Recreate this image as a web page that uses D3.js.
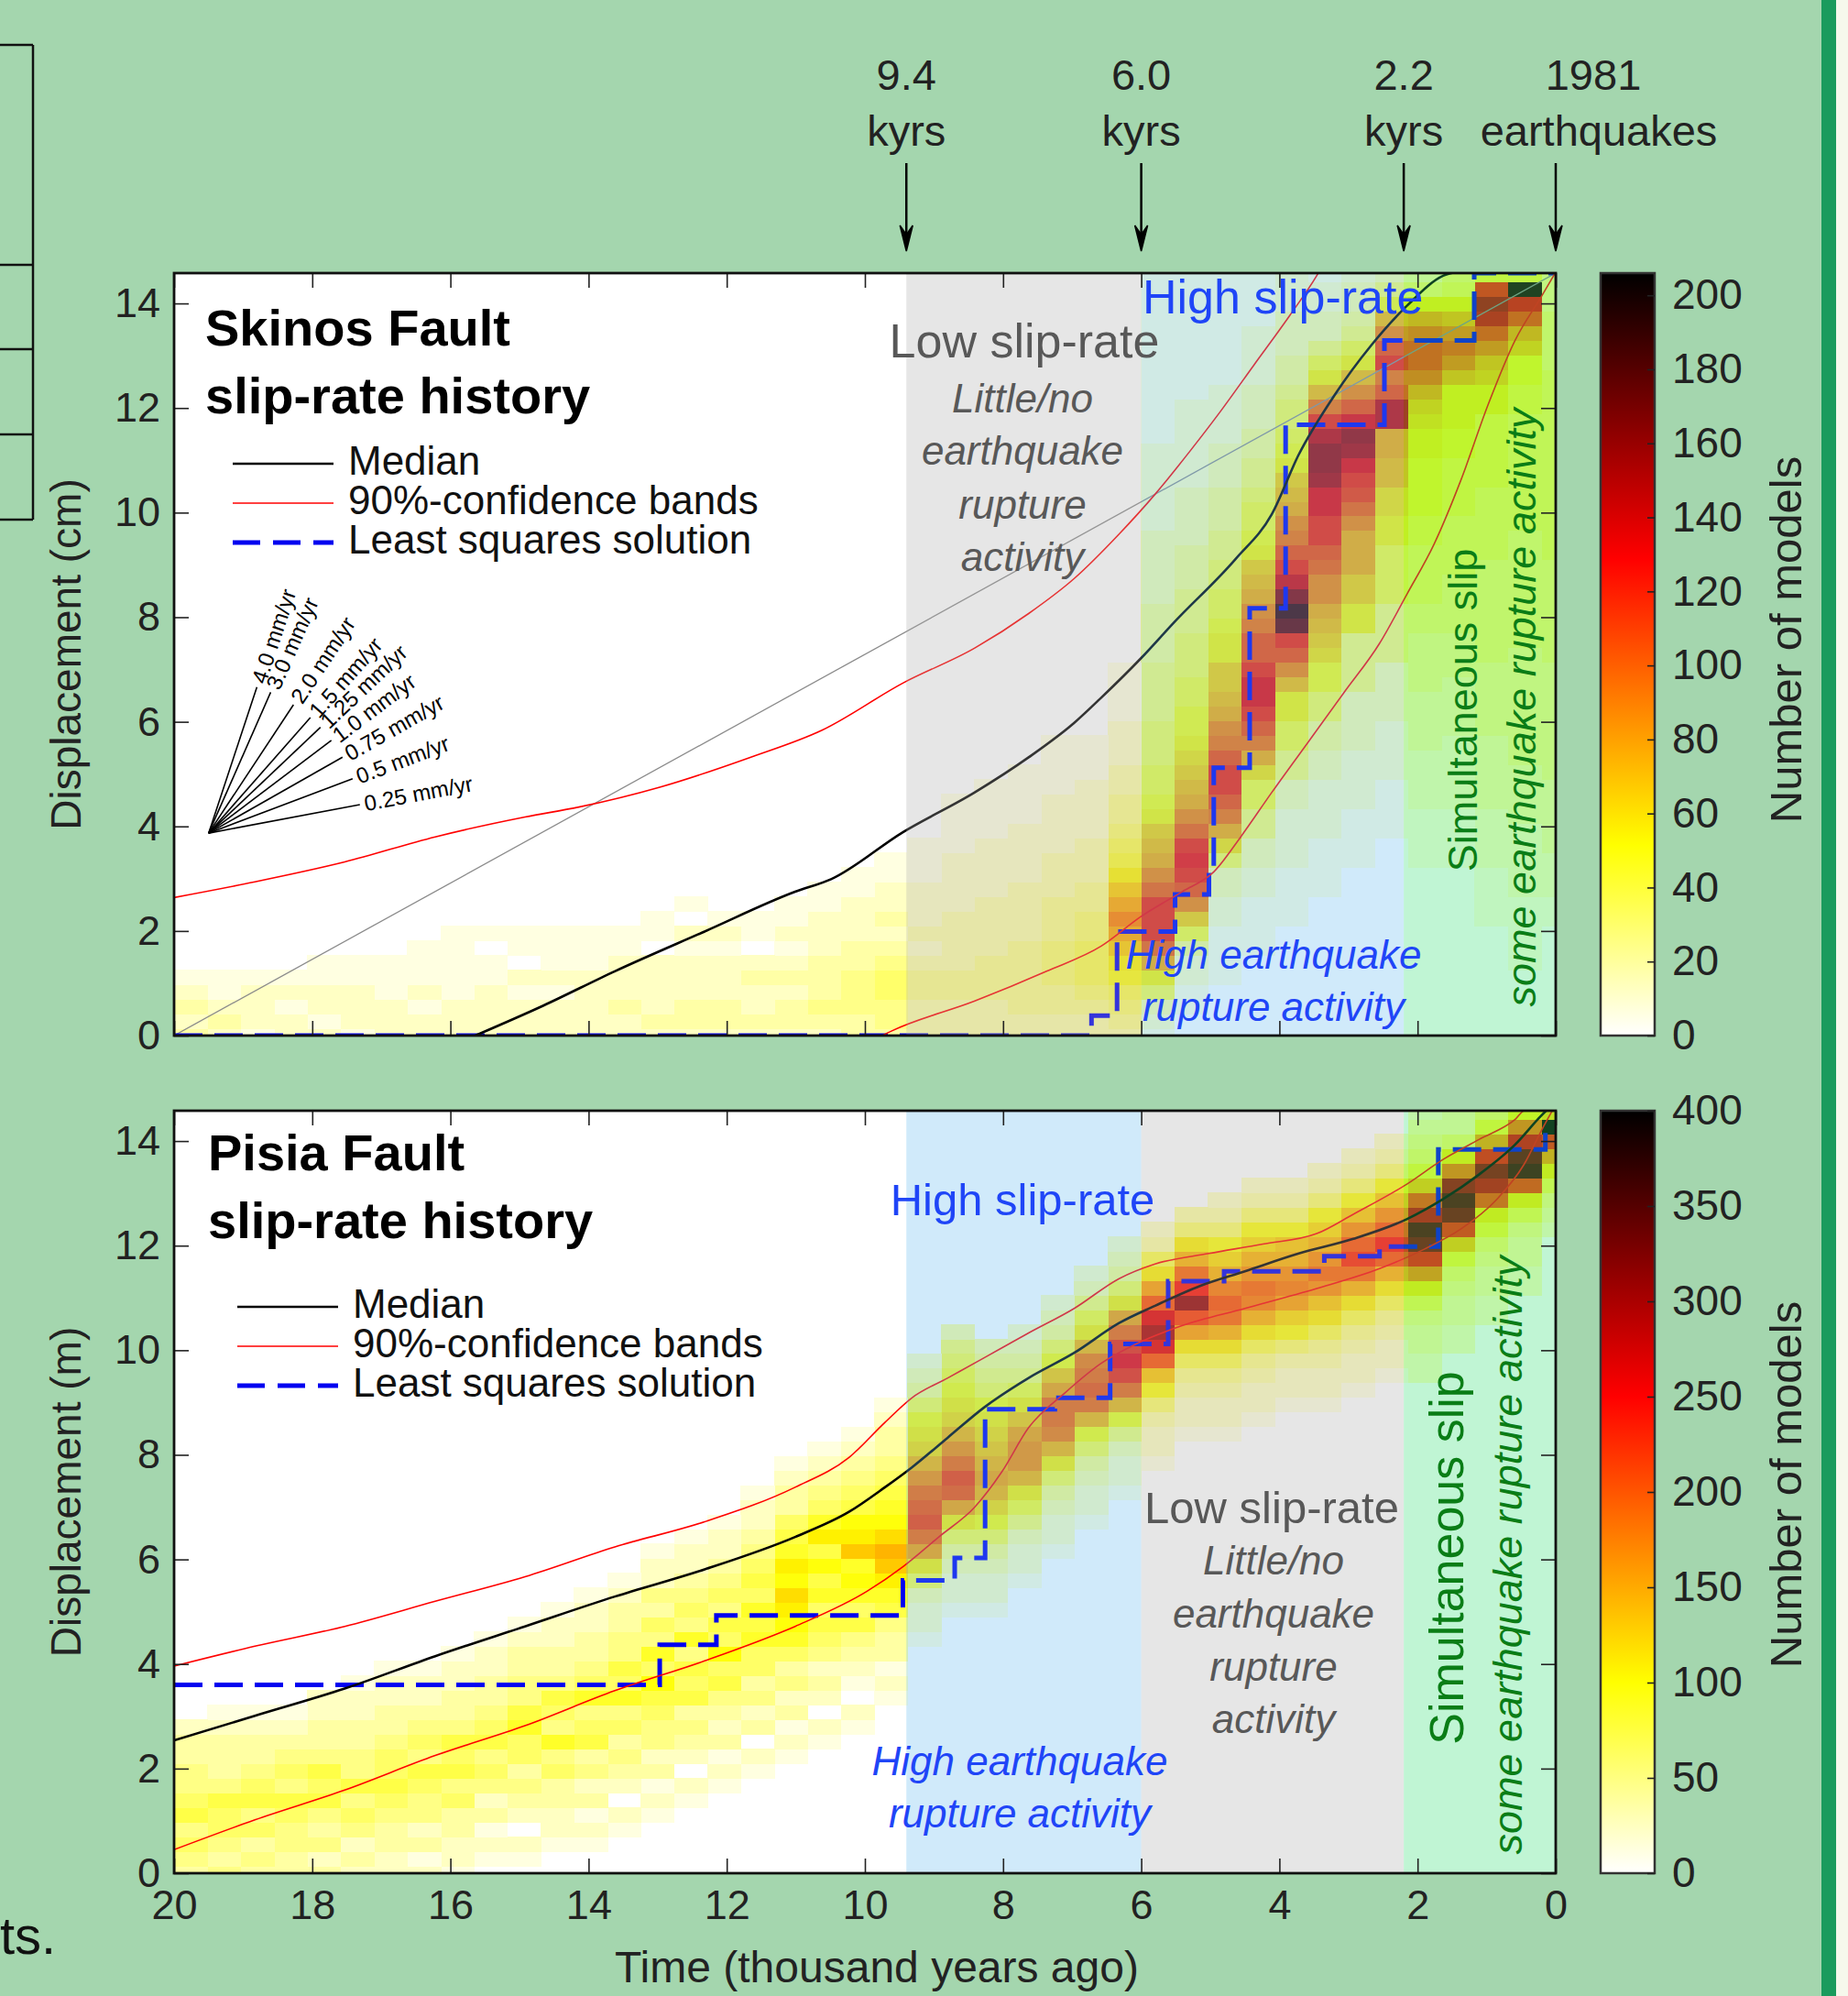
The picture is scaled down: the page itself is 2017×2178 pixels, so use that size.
<!DOCTYPE html>
<html>
<head>
<meta charset="utf-8">
<script src="https://cdn.jsdelivr.net/npm/d3@7"></script>
<style>
  body { margin: 0; background: #a4d6ae; }
  svg { display: block; }
</style>
</head>
<body>
<svg id="fig" width="2017" height="2178"></svg>
<script>
// ---------- data ----------
var timeTicks = [20, 18, 16, 14, 12, 10, 8, 6, 4, 2, 0];
var dispTicks = [0, 2, 4, 6, 8, 10, 12, 14];
var skinosCbarTicks = [0, 20, 40, 60, 80, 100, 120, 140, 160, 180, 200];
var pisiaCbarTicks = [0, 50, 100, 150, 200, 250, 300, 350, 400];
var fanRates = [4.0, 3.0, 2.0, 1.5, 1.25, 1.0, 0.75, 0.5, 0.25];
var fanLabels = ["4.0 mm/yr", "3.0 mm/yr", "2.0 mm/yr", "1.5 mm/yr", "1.25 mm/yr", "1.0 mm/yr", "0.75 mm/yr", "0.5 mm/yr", "0.25 mm/yr"];
var eventTimes = [9.4, 6.0, 2.2, 0];
var eventLabels = [["9.4", "kyrs"], ["6.0", "kyrs"], ["2.2", "kyrs"], ["1981", "earthquakes"]];
var legendLabels = ["Median", "90%-confidence bands", "Least squares solution"];

// [time kyr ago, displacement]
var skinosMedian = [[15.64,0],[14.66,0.57],[13.62,1.23],[12.32,1.99],[11.01,2.75],[10.49,2.99],[9.45,3.89],[8.41,4.65],[7.63,5.32],[6.97,5.98],[6.58,6.46],[6.0,7.22],[5.54,7.88],[4.63,9.12],[4.11,9.97],[3.72,11.11],[3.20,12.25],[2.67,13.2],[2.15,13.96],[1.63,14.53],[1.37,14.62]];
var skinosUpper = [[20,2.64],[18.83,2.94],[17.53,3.32],[16.22,3.80],[14.92,4.18],[14.14,4.37],[12.97,4.75],[11.66,5.32],[10.62,5.84],[9.45,6.74],[8.41,7.41],[7.63,8.07],[6.97,8.74],[6.32,9.59],[5.80,10.35],[5.28,11.2],[4.89,11.87],[4.37,12.82],[3.85,13.77],[3.46,14.53],[3.30,14.9]];
var skinosLower = [[9.75,0],[9.61,0.09],[8.41,0.66],[7.37,1.23],[6.58,1.71],[6.0,2.28],[5.41,2.75],[4.95,3.13],[4.56,3.80],[4.11,4.65],[3.59,5.60],[3.07,6.55],[2.55,7.50],[2.15,8.45],[1.76,9.40],[1.37,10.63],[0.98,12.06],[0.59,13.29],[0.20,14.15],[0.0,14.6]];
var skinosLsq = [[20,0],[6.72,0],[6.72,0.38],[6.35,0.38],[6.35,1.99],[5.51,1.99],[5.51,2.70],[5.02,2.70],[5.02,3.18],[4.95,3.18],[4.95,5.12],[4.43,5.12],[4.43,8.17],[3.91,8.17],[3.91,11.68],[2.48,11.68],[2.48,13.29],[1.18,13.29],[1.18,14.58],[0,14.58]];
var skinosAverage = [[20,0],[0,14.58]];

var pisiaMedian = [[20,2.54],[18.83,3.01],[17.53,3.53],[16.22,4.15],[14.92,4.72],[13.62,5.29],[12.32,5.81],[11.01,6.43],[10.23,6.91],[9.71,7.38],[9.32,7.76],[8.80,8.33],[8.28,8.90],[7.63,9.47],[6.97,9.95],[6.32,10.52],[5.80,10.85],[5.15,11.23],[4.50,11.51],[3.72,11.85],[2.93,12.13],[2.15,12.51],[1.63,12.89],[1.11,13.36],[0.59,13.93],[0.20,14.5],[0,14.75]];
var pisiaUpper = [[20,3.96],[18.83,4.34],[17.53,4.72],[16.22,5.20],[14.92,5.67],[13.62,6.24],[12.32,6.72],[11.01,7.38],[10.23,7.95],[9.71,8.62],[9.32,9.09],[8.80,9.47],[8.28,9.85],[7.63,10.33],[6.97,10.80],[6.32,11.37],[5.80,11.65],[5.02,11.85],[4.24,12.03],[3.46,12.23],[2.93,12.60],[2.15,13.18],[1.63,13.65],[1.11,14.03],[0.59,14.41],[0.45,14.58],[0,14.58]];
var pisiaLower = [[20,0.45],[18.83,1.02],[17.53,1.59],[16.22,2.25],[14.92,2.82],[13.62,3.49],[12.32,4.06],[11.01,4.72],[9.97,5.39],[9.45,5.86],[8.93,6.43],[8.41,7.0],[8.02,7.67],[7.63,8.52],[7.10,9.19],[6.58,9.75],[6.06,10.13],[5.41,10.47],[4.50,10.80],[3.46,11.18],[2.55,11.56],[1.89,11.94],[1.37,12.32],[0.85,12.89],[0.46,13.55],[0.20,14.22],[0,14.7]];
var pisiaLsq = [[20,3.60],[12.97,3.60],[12.97,4.37],[12.15,4.37],[12.15,4.93],[9.45,4.93],[9.45,5.60],[8.70,5.60],[8.70,6.03],[8.26,6.03],[8.26,8.87],[7.25,8.87],[7.25,9.09],[6.45,9.09],[6.45,10.12],[5.61,10.12],[5.61,11.32],[4.80,11.32],[4.80,11.51],[3.35,11.51],[3.35,11.80],[2.55,11.80],[2.55,11.98],[1.70,11.98],[1.70,13.84],[0.15,13.84],[0.15,14.2],[0,14.2]];

// model-count histograms: one entry per time bin (youngest first),
// [first displacement bin, counts coded base-36 per bin upward]
var skinosHeat = [
  [8, "1122 2333 3344 4444 4455 5555 5666 6666 6666 6655 5544 4"],
  [5, "1111 1222 2233 3344 4444 4455 5555 5566 6666 6677 88bd imx7"],
  [8, "1111 2222 3333 3444 4455 5555 5666 6677 7779 9bcf inpk 7"],
  [12, "1111 2222 2333 3444 5555 6666 7777 8899 9cfh fc96 5"],
  [12, "1111 2222 3333 4444 5566 6677 8888 99ab dgii gd95 3"],
  [14, "1111 2222 3333 5555 7777 99aa ccdd ooig kifc 853"],
  [12, "1111 2222 3333 5555 99bb dddf hjkm pqmi fc97 5433 2"],
  [10, "1111 2222 3344 6688 abcd ffhi kkmm pqqo kgc9 7533 221"],
  [8, "1111 2222 3355 7799 cfik tvrn kigf dcb9 8766 5443 33222"],
  [6, "1111 2233 5577 adgi kmmk iigf dcb9 8776 5544 3332 2221111"],
  [4, "1111 2233 6adg ikki gfdc bb99 8776 6554 4433 3222 211111111"],
  [2, "1122 47bf iklk hfdc ba98 8776 6655 5444 3333 2222 2211 1111111"],
  [0, "1236 9dhk kkhf dcb9 8776 6655 5544 4433 3332 2222 2111 111111111"],
  [0, "3456 89bd fdb9 7654 4332 2211 11"],
  [0, "3345 6665 5443 3322 2211 1"],
  [0, "3344 5554 4433 3222 2111 1"],
  [0, "3344 4443 3332 2221 111"],
  [0, "3334 4433 3322 2211 11"],
  [0, "3334 4333 3222 2111 1"],
  [0, "3334 4323 2221 11"],
  [0, "3445 5432 3221 1"],
  [0, "3344 4332 2211"],
  [0, "2343 3322 211"],
  [0, "2332 3212 11"],
  [0, "2322 3201 1"],
  [0, "2332 2212 1"],
  [0, "2332 2212 01"],
  [0, "2322 2201 1"],
  [0, "2232 2211"],
  [0, "2222 2111"],
  [0, "2221 2111"],
  [0, "2221 2011"],
  [0, "2222 1101"],
  [0, "2221 1111"],
  [0, "2212 111"],
  [0, "2221 11"],
  [0, "1222 11"],
  [0, "2122 11"],
  [0, "2212 1"],
  [0, "1222 1"],
  [0, "2321 1"],
  [0, "3232 1"]
];
var pisiaHeat = [
  [44, "2346 9djx a"],
  [40, "2233 469i usmf 8"],
  [38, "2233 4579 hnqk d75"],
  [36, "2233 457b jrtp f953 3"],
  [34, "2233 469e krtn hb75 432"],
  [34, "1223 469c hkhe b853 2"],
  [33, "1223 469c gjhe b853 2"],
  [32, "1223 469b egec a853 2"],
  [32, "1223 58ad fecb 8532"],
  [31, "1223 469c fgec a853 2"],
  [30, "1223 469c ghfc a853 2"],
  [30, "1223 469d iqkg c953"],
  [28, "1223 58bh mpmh d963 2"],
  [26, "1223 58cg jljg d964 32"],
  [24, "1223 468c ghgf c975 32"],
  [22, "1223 469c fggd b864 32"],
  [20, "1223 579c eedb 9754 32"],
  [18, "1223 468a cdcb a986 543"],
  [18, "1223 469d hige ca98 7653"],
  [16, "1223 69dg ihge ca98 6432"],
  [12, "1213 3467 9bca 8765 4332 1"],
  [10, "1201 2346 5787 b986 5432 1"],
  [9, "1202 3245 6576 8697 5432 1"],
  [8, "1213 2435 789a 8976 5332 1"],
  [7, "1203 2435 5767 5654 3221"],
  [6, "1213 2346 5856 4543 221"],
  [5, "1202 3436 5647 4543 221"],
  [4, "1213 2445 6857 4534 221"],
  [3, "1202 3435 4756 4433 21"],
  [2, "1213 2436 5475 4332 21"],
  [2, "1223 3547 4564 3322 1"],
  [1, "1202 3435 5764 4332 1"],
  [1, "1213 2454 6543 3221"],
  [0, "1223 3546 5643 3221"],
  [0, "2132 4456 4543 221"],
  [0, "2233 4565 5433 221"],
  [0, "2324 5464 4332 21"],
  [0, "3243 4656 4332 2"],
  [0, "3344 5645 4321"],
  [0, "3435 4654 3321"],
  [0, "4345 5643 3321"],
  [0, "3454 6544 332"]
];

// ---------- layout ----------
var W = 2017, H = 2178;
var FONT = '"Liberation Sans", Arial, Helvetica, sans-serif';
var plotLeft = 190, plotRight = 1698;
var COL0 = -0.031, COLW = 0.4828, ROWH = 0.28;
var OV_ALPHA = 0.3;
var OV = { gray: "#acacac", blue: "#62b9ee", green: "#2dde70" };
var BLUE_TXT = "#1f45f7", GRAY_TXT = "#585858", GREEN_TXT = "#0a7d16";

var svg = d3.select("#fig").attr("font-family", FONT);
var x = d3.scaleLinear().domain([20, 0]).range([plotLeft, plotRight]);

function hotR(s) {
  s = Math.max(0, Math.min(1, s));
  var v = 1 - s;
  var r = Math.min(1, v / 0.375),
      g = Math.max(0, Math.min(1, (v - 0.375) / 0.375)),
      b = Math.max(0, Math.min(1, (v - 0.75) / 0.25));
  return d3.rgb(r * 255, g * 255, b * 255).toString();
}

function addText(sel, str, px, py, size, opts) {
  opts = opts || {};
  var t = sel.append("text").text(str)
    .attr("x", px).attr("y", py)
    .attr("font-size", size)
    .attr("fill", opts.color || "#222")
    .attr("text-anchor", opts.anchor || "start");
  if (opts.italic) t.attr("font-style", "italic");
  if (opts.bold) t.attr("font-weight", "bold");
  if (opts.rotate) t.attr("transform", "rotate(" + opts.rotate + "," + px + "," + py + ")");
  return t;
}

// background pieces
svg.append("rect").attr("width", W).attr("height", H).attr("fill", "#a4d6ae");
svg.append("rect").attr("x", 1988).attr("y", 0).attr("width", 16).attr("height", H).attr("fill", "#1a9b5d");
svg.append("rect").attr("x", 2004).attr("y", 0).attr("width", 13).attr("height", H).attr("fill", "#f6f8ec");
var frameL = svg.append("g").attr("stroke", "#111").attr("stroke-width", 2.5);
frameL.append("line").attr("x1", 36).attr("x2", 36).attr("y1", 49).attr("y2", 567);
[49, 289, 381, 474, 567].forEach(function (yy) {
  frameL.append("line").attr("x1", 0).attr("x2", 36).attr("y1", yy).attr("y2", yy);
});
addText(svg, "ts.", 0, 2132, 58, { color: "#111" });

function drawPanel(p) {
  var y = d3.scaleLinear().domain([0, 14.58]).range([p.bottom, p.top]);
  var g = svg.append("g");
  var clipId = "clip" + p.id;
  svg.append("clipPath").attr("id", clipId).append("rect")
    .attr("x", plotLeft).attr("y", p.top)
    .attr("width", plotRight - plotLeft).attr("height", p.bottom - p.top);
  var plot = g.append("g").attr("clip-path", "url(#" + clipId + ")");
  plot.append("rect").attr("x", plotLeft).attr("y", p.top)
    .attr("width", plotRight - plotLeft).attr("height", p.bottom - p.top).attr("fill", "#fff");

  // histogram cells
  var cells = [];
  p.heat.forEach(function (col, k) {
    var lv = col[1].replace(/ /g, "");
    for (var i = 0; i < lv.length; i++) {
      var n = parseInt(lv[i], 36);
      if (n > 0) cells.push({ t: COL0 + k * COLW, d: (col[0] + i) * ROWH, v: n * p.heatScale });
    }
  });
  plot.append("g").attr("shape-rendering", "crispEdges")
    .selectAll("rect").data(cells).enter().append("rect")
    .attr("x", function (d) { return x(d.t + COLW / 2); })
    .attr("width", function (d) { return x(d.t - COLW / 2) - x(d.t + COLW / 2) + 0.7; })
    .attr("y", function (d) { return y(d.d + ROWH / 2); })
    .attr("height", function (d) { return y(d.d - ROWH / 2) - y(d.d + ROWH / 2) + 0.7; })
    .attr("fill", function (d) { return hotR(d.v / p.cmax); });

  var smooth = d3.line().x(function (d) { return x(d[0]); }).y(function (d) { return y(d[1]); }).curve(d3.curveMonotoneX);
  var straight = d3.line().x(function (d) { return x(d[0]); }).y(function (d) { return y(d[1]); });

  if (p.average) {
    plot.append("path").attr("d", straight(p.average)).attr("fill", "none")
      .attr("stroke", "#8c8c8c").attr("stroke-width", 1.3);
  }
  plot.append("path").attr("d", straight(p.lsq)).attr("fill", "none")
    .attr("stroke", "#0000f0").attr("stroke-width", 5).attr("stroke-dasharray", "31,13");
  plot.append("path").attr("d", smooth(p.upper)).attr("fill", "none").attr("stroke", "#ff0000").attr("stroke-width", 1.6);
  plot.append("path").attr("d", smooth(p.lower)).attr("fill", "none").attr("stroke", "#ff0000").attr("stroke-width", 1.6);
  plot.append("path").attr("d", smooth(p.median)).attr("fill", "none").attr("stroke", "#000").attr("stroke-width", 2.6);

  // shaded periods
  p.bands.forEach(function (b) {
    plot.append("rect").attr("x", x(b[0])).attr("width", x(b[1]) - x(b[0]))
      .attr("y", p.top).attr("height", p.bottom - p.top)
      .attr("fill", OV[b[2]]).attr("opacity", OV_ALPHA);
  });

  // annotations
  p.notes.forEach(function (n) { addText(g, n[0], n[1], n[2], n[3], n[4]); });

  // title + legend
  addText(g, p.title[0], p.titleX, p.titleY, 56, { bold: true, color: "#000" });
  addText(g, p.title[1], p.titleX, p.titleY + 74, 56, { bold: true, color: "#000" });
  var legStyles = [
    { c: "#000", w: 2.6, dash: null },
    { c: "#ff0000", w: 1.6, dash: null },
    { c: "#0000f0", w: 5, dash: "30,14" }
  ];
  legendLabels.forEach(function (lab, i) {
    var by = p.legY + i * 43;
    var ln = g.append("line").attr("x1", p.legX).attr("x2", p.legX + 110)
      .attr("y1", by - 12).attr("y2", by - 12)
      .attr("stroke", legStyles[i].c).attr("stroke-width", legStyles[i].w);
    if (legStyles[i].dash) ln.attr("stroke-dasharray", legStyles[i].dash);
    addText(g, lab, p.legX + 126, by, 44, { color: "#111" });
  });

  // slip-rate fan
  if (p.fan) {
    var ox = x(19.5), oy = y(3.87);
    var pxPerKyr = x(0) - x(1), pxPerM = y(0) - y(1);
    var fan = g.append("g");
    fanRates.forEach(function (r, i) {
      var dx = pxPerKyr, dy = -pxPerM * r;
      var len = Math.sqrt(dx * dx + dy * dy);
      dx = dx / len; dy = dy / len;
      var ex = ox + dx * 168, ey = oy + dy * 168;
      fan.append("line").attr("x1", ox).attr("y1", oy).attr("x2", ex).attr("y2", ey)
        .attr("stroke", "#000").attr("stroke-width", 1.6);
      var ang = Math.atan2(dy, dx) * 180 / Math.PI;
      fan.append("text").text(fanLabels[i])
        .attr("transform", "translate(" + (ex + dx * 5) + "," + (ey + dy * 5) + ") rotate(" + ang + ")")
        .attr("dy", "0.35em").attr("font-size", 24).attr("fill", "#000");
    });
  }

  // axes (inward ticks)
  function styleAxis(sel) {
    sel.select(".domain").remove();
    sel.attr("font-size", 45).attr("font-family", FONT).attr("color", "#222");
    sel.selectAll("line").attr("stroke-width", 1.6);
  }
  g.append("g").attr("transform", "translate(" + plotLeft + ",0)")
    .call(d3.axisLeft(y).tickValues(dispTicks).tickSize(-16).tickPadding(15).tickFormat(d3.format("d")))
    .call(styleAxis);
  g.append("g").attr("transform", "translate(" + plotRight + ",0)")
    .call(d3.axisRight(y).tickValues(dispTicks).tickSize(-16).tickFormat(""))
    .call(styleAxis);
  g.append("g").attr("transform", "translate(0," + p.top + ")")
    .call(d3.axisTop(x).tickValues(timeTicks).tickSize(-16).tickFormat(""))
    .call(styleAxis);
  g.append("g").attr("transform", "translate(0," + p.bottom + ")")
    .call(d3.axisBottom(x).tickValues(timeTicks).tickSize(-16).tickPadding(18)
      .tickFormat(p.xLabels ? d3.format("d") : ""))
    .call(styleAxis);
  g.append("rect").attr("x", plotLeft).attr("y", p.top)
    .attr("width", plotRight - plotLeft).attr("height", p.bottom - p.top)
    .attr("fill", "none").attr("stroke", "#111").attr("stroke-width", 2.8);

  addText(g, p.yLabel, 88, (p.top + p.bottom) / 2, 46, { anchor: "middle", rotate: -90 });

  // colour bar
  var gradId = "grad" + p.id;
  var grad = svg.append("defs").append("linearGradient").attr("id", gradId)
    .attr("x1", 0).attr("y1", 1).attr("x2", 0).attr("y2", 0);
  for (var s = 0; s <= 1.0001; s += 0.025) {
    grad.append("stop").attr("offset", s).attr("stop-color", hotR(s));
  }
  var cb = d3.scaleLinear().domain([0, p.cmax]).range([p.bottom, p.top]);
  g.append("rect").attr("x", 1747).attr("y", p.top).attr("width", 59).attr("height", p.bottom - p.top)
    .attr("fill", "url(#" + gradId + ")").attr("stroke", "#333").attr("stroke-width", 2.5);
  g.append("g").attr("transform", "translate(1806,0)")
    .call(d3.axisRight(cb).tickValues(p.cbarTicks).tickSize(-8).tickPadding(19))
    .call(function (sel) {
      sel.select(".domain").remove();
      sel.attr("font-size", 46).attr("font-family", FONT).attr("color", "#222");
      sel.selectAll("line").attr("stroke-width", 1.6);
    });
  addText(g, "Number of models", 1966, p.cbarLabelY, 49, { anchor: "middle", rotate: -90 });
}

drawPanel({
  id: "top", top: 298, bottom: 1130,
  heat: skinosHeat, heatScale: 6, cmax: 206, cbarTicks: skinosCbarTicks, cbarLabelY: 698,
  median: skinosMedian, upper: skinosUpper, lower: skinosLower, lsq: skinosLsq, average: skinosAverage,
  bands: [[9.4, 6.0, "gray"], [6.0, 2.2, "blue"], [2.2, 0, "green"]],
  title: ["Skinos Fault", "slip-rate history"], titleX: 224, titleY: 377,
  legX: 254, legY: 518, fan: true, xLabels: false,
  yLabel: "Displacement (cm)",
  notes: [
    ["Low slip-rate", 1118, 390, 52, { anchor: "middle", color: GRAY_TXT }],
    ["Little/no", 1116, 450, 44, { anchor: "middle", color: GRAY_TXT, italic: true }],
    ["earthquake", 1116, 507, 44, { anchor: "middle", color: GRAY_TXT, italic: true }],
    ["rupture", 1116, 566, 44, { anchor: "middle", color: GRAY_TXT, italic: true }],
    ["activity", 1116, 623, 44, { anchor: "middle", color: GRAY_TXT, italic: true }],
    ["High slip-rate", 1247, 342, 52, { color: BLUE_TXT }],
    ["High earthquake", 1390, 1057, 44, { anchor: "middle", color: BLUE_TXT, italic: true }],
    ["rupture activity", 1390, 1114, 44, { anchor: "middle", color: BLUE_TXT, italic: true }],
    ["Simultaneous slip", 1612, 775, 45, { anchor: "middle", color: GREEN_TXT, rotate: -90 }],
    ["some earthquake rupture activity", 1676, 772, 45, { anchor: "middle", color: GREEN_TXT, italic: true, rotate: -90 }]
  ]
});

drawPanel({
  id: "bot", top: 1212, bottom: 2044,
  heat: pisiaHeat, heatScale: 12, cmax: 400, cbarTicks: pisiaCbarTicks, cbarLabelY: 1620,
  median: pisiaMedian, upper: pisiaUpper, lower: pisiaLower, lsq: pisiaLsq, average: null,
  bands: [[9.4, 6.0, "blue"], [6.0, 2.2, "gray"], [2.2, 0, "green"]],
  title: ["Pisia Fault", "slip-rate history"], titleX: 227, titleY: 1277,
  legX: 259, legY: 1438, fan: false, xLabels: true,
  yLabel: "Displacement (m)",
  notes: [
    ["High slip-rate", 1116, 1326, 49, { anchor: "middle", color: BLUE_TXT }],
    ["Low slip-rate", 1388, 1662, 49, { anchor: "middle", color: GRAY_TXT }],
    ["Little/no", 1390, 1718, 44, { anchor: "middle", color: GRAY_TXT, italic: true }],
    ["earthquake", 1390, 1776, 44, { anchor: "middle", color: GRAY_TXT, italic: true }],
    ["rupture", 1390, 1834, 44, { anchor: "middle", color: GRAY_TXT, italic: true }],
    ["activity", 1390, 1891, 44, { anchor: "middle", color: GRAY_TXT, italic: true }],
    ["High earthquake", 1113, 1937, 44, { anchor: "middle", color: BLUE_TXT, italic: true }],
    ["rupture activity", 1113, 1994, 44, { anchor: "middle", color: BLUE_TXT, italic: true }],
    ["Simultaneous slip", 1597, 1700, 52, { anchor: "middle", color: GREEN_TXT, rotate: -90 }],
    ["some earthquake rupture activity", 1661, 1697, 45, { anchor: "middle", color: GREEN_TXT, italic: true, rotate: -90 }]
  ]
});

// time axis title
addText(svg, "Time (thousand years ago)", 957, 2163, 48, { anchor: "middle" });

// event arrows above the top panel
var ev = svg.append("g");
eventTimes.forEach(function (t, i) {
  var ax = x(t);
  ev.append("line").attr("x1", ax).attr("x2", ax).attr("y1", 178).attr("y2", 262)
    .attr("stroke", "#000").attr("stroke-width", 2.5);
  ev.append("path")
    .attr("d", "M" + (ax - 7) + ",246 L" + ax + ",274 L" + (ax + 7) + ",246 L" + ax + ",256 Z")
    .attr("fill", "#000").attr("stroke", "#000").attr("stroke-width", 1.5);
  var lx = (i === 3) ? ax + 41 : ax;
  var lx2 = (i === 3) ? ax + 47 : ax;
  addText(ev, eventLabels[i][0], lx, 98, 47, { anchor: "middle" });
  addText(ev, eventLabels[i][1], lx2, 159, 47, { anchor: "middle" });
});
</script>
</body>
</html>
